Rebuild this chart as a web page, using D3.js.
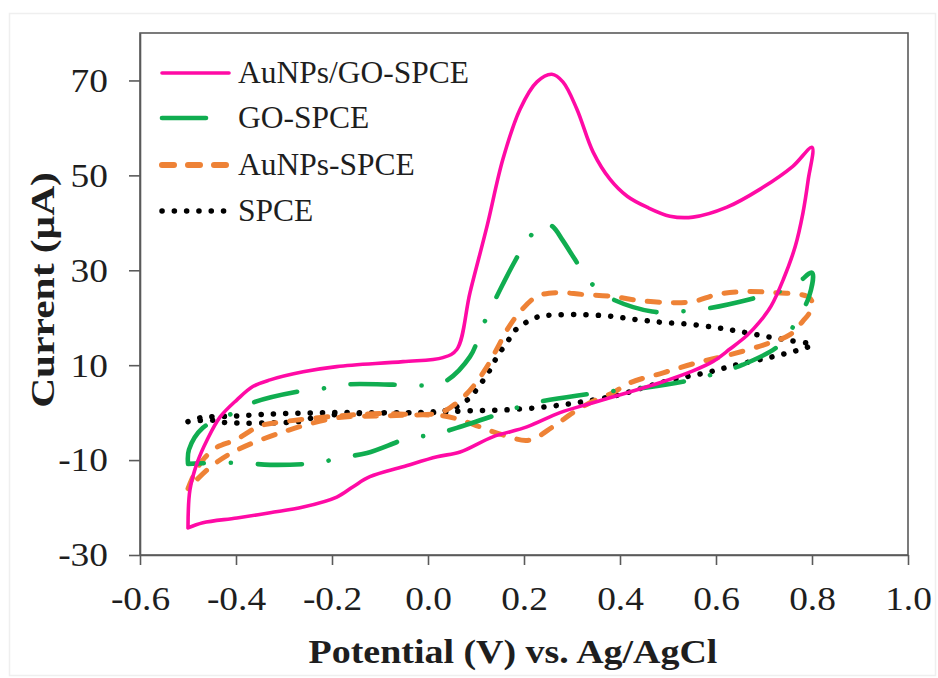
<!DOCTYPE html>
<html>
<head>
<meta charset="utf-8">
<script src="https://cdn.jsdelivr.net/npm/d3@7"></script>
<style>
  html, body { margin: 0; padding: 0; background: #fff; }
  svg { display: block; }
</style>
</head>
<body>
<svg id="chart" width="938" height="678"></svg>
<script>
// Cyclic voltammograms: each scan is a closed loop (forward sweep then reverse sweep)

// AuNPs/GO-SPCE
const auGoPotential = [-0.5, -0.496, -0.481, -0.46, -0.433, -0.398, -0.365, -0.329, -0.26, -0.19, -0.052, 0.031,
  0.06, 0.0875, 0.123, 0.156, 0.192, 0.227, 0.258, 0.281, 0.31, 0.344, 0.379, 0.415, 0.456, 0.504, 0.552, 0.623,
  0.692, 0.76, 0.8,
  0.792, 0.781, 0.765, 0.74, 0.715, 0.69, 0.665, 0.629, 0.594, 0.552, 0.483, 0.415, 0.344, 0.275, 0.206, 0.135,
  0.067, 0.019, -0.052, -0.121, -0.156, -0.19, -0.26, -0.329, -0.398, -0.469, -0.5];
const auGoCurrent = [-24.3, -16.3, -10.6, -5.7, -0.9, 2.7, 5.5, 6.9, 8.6, 9.7, 10.75, 11.6,
  13.3, 25.3, 39.3, 53.4, 64.0, 69.7, 71.3, 69.7, 64.0, 54.9, 49.2, 45.6, 43.3, 41.4, 41.2, 43.3,
  47.1, 51.9, 55.9,
  49.0, 42.0, 35.0, 28.0, 22.5, 19.0, 16.3, 13.4, 10.8, 8.8, 6.3, 4.2, 2.1, 0.0, -3.0, -5.1,
  -8.3, -9.3, -11.4, -13.5, -15.6, -17.8, -19.9, -21.1, -22.2, -23.2, -24.3];

// GO-SPCE
const goPotential = [-0.5, -0.498, -0.469, -0.4125, -0.365, -0.273, -0.221, -0.177, -0.073, -0.021, 0.031,
  0.0875, 0.1125, 0.133, 0.181, 0.206, 0.24, 0.26, 0.28, 0.306, 0.333, 0.373, 0.467, 0.517, 0.567, 0.667, 0.76, 0.8,
  0.794, 0.769, 0.733, 0.656, 0.604, 0.552, 0.456, 0.354, 0.254, 0.206, 0.156, 0.06, 0.01, -0.0375, -0.127,
  -0.183, -0.231, -0.329, -0.385, -0.448, -0.5];
const goCurrent = [-10.8, -7.8, -3.2, -0.4, 2.1, 4.4, 5.05, 5.9, 5.9, 5.7, 6.3,
  11.8, 17.9, 22.4, 31.9, 36.1, 40.0, 39.2, 36.4, 32.3, 28.1, 24.5, 21.3, 21.3, 21.7, 23.8, 26.6, 29.5,
  24.5, 19.6, 14.3, 10.1, 8.4, 6.95, 5.3, 4.2, 2.7, 1.7, 0.0, -3.2, -4.7, -5.3, -8.5,
  -9.5, -10.6, -11.0, -10.6, -10.6, -10.8];

// AuNPs-SPCE
const auPotential = [-0.5, -0.485, -0.465, -0.44, -0.4, -0.35, -0.3, -0.2, -0.1, 0.025, 0.067, 0.094, 0.123,
  0.146, 0.165, 0.192, 0.227, 0.269, 0.323, 0.385, 0.427, 0.498, 0.552, 0.602, 0.656, 0.719, 0.79, 0.8,
  0.796, 0.781, 0.755, 0.7, 0.629, 0.56, 0.49, 0.421, 0.385, 0.3375, 0.302, 0.26, 0.21, 0.156, 0.108, 0.067,
  0.025, -0.1, -0.19, -0.3, -0.4, -0.45, -0.5];
const auCurrent = [-16.0, -12.5, -9.5, -7.3, -5.7, -2.8, -1.9, -0.8, -0.2, 0.0, 2.7, 5.5, 9.7,
  13.9, 17.5, 21.3, 24.5, 25.3, 24.9, 24.5, 23.8, 23.2, 23.4, 24.9, 25.5, 25.3, 24.5, 23.4,
  21.3, 19.3, 16.5, 14.3, 12.2, 10.5, 8.4, 6.3, 4.2, 2.1, 0.0, -3.0, -5.8, -4.7, -3.0, -1.5,
  -0.6, -0.7, -1.1, -4.0, -8.0, -11.2, -16.0];

// SPCE
const spcePotential = [-0.5, -0.45, -0.42, -0.3, -0.27, -0.24, -0.22, -0.19, -0.1, 0.0, 0.05, 0.0875, 0.104,
  0.119, 0.133, 0.146, 0.165, 0.177, 0.198, 0.223, 0.248, 0.358, 0.435, 0.49, 0.546, 0.602, 0.65, 0.706, 0.754, 0.8,
  0.775, 0.719, 0.644, 0.5875, 0.51, 0.456, 0.4, 0.323, 0.248, 0.165, 0.083, 0.0, -0.2, -0.3, -0.35, -0.4,
  -0.475, -0.5];
const spceCurrent = [-1.9, -1.6, -2.1, -2.1, -1.9, -1.1, -0.9, -0.4, -0.1, 0.1, 0.8, 3.15, 5.3,
  7.4, 9.7, 12.2, 14.8, 16.9, 18.6, 20.0, 20.5, 20.5, 19.6, 19.0, 18.6, 17.9, 17.1, 16.0, 15.2, 14.3,
  13.3, 11.8, 10.1, 8.6, 6.95, 5.5, 3.8, 2.3, 1.25, 0.6, 0.4, 0.0, 0.0, -0.2, -0.4, -0.7,
  -1.1, -1.9];

const seriesNames = ["AuNPs/GO-SPCE", "GO-SPCE", "AuNPs-SPCE", "SPCE"];
const xTicks = [-0.6, -0.4, -0.2, 0.0, 0.2, 0.4, 0.6, 0.8, 1.0];
const yTicks = [-30, -10, 10, 30, 50, 70];
const xTitle = "Potential (V) vs. Ag/AgCl";
const yTitle = "Current (μA)";

const series = [
  { name: seriesNames[0], x: auGoPotential, y: auGoCurrent, color: "#ff0aa5", width: 3.6, dash: null, cap: "round" },
  { name: seriesNames[1], x: goPotential, y: goCurrent, color: "#10ad50", width: 4.6, dash: "44 27 0.1 27", cap: "round" },
  { name: seriesNames[2], x: auPotential, y: auCurrent, color: "#ee8236", width: 5, dash: "12 14", cap: "round" },
  { name: seriesNames[3], x: spcePotential, y: spceCurrent, color: "#000000", width: 5.5, dash: "0.1 12.2", cap: "round" }
];

const svg = d3.select("#chart");
const W = 938, H = 678;
const plot = { left: 140, right: 908, top: 33, bottom: 555 };

const x = d3.scaleLinear().domain([-0.6, 1.0]).range([plot.left, plot.right]);
const y = d3.scaleLinear().domain([-30, 80]).range([plot.bottom, plot.top]);

const serif = "'Liberation Serif', 'Times New Roman', 'DejaVu Serif', serif";
const axisGray = "#5a5a5a";
const textColor = "#1e1e1e";

// faint outer frame of the figure
svg.append("rect")
  .attr("x", 9.5).attr("y", 13.5).attr("width", W - 12).attr("height", H - 16)
  .attr("fill", "none").attr("stroke", "#efefef").attr("stroke-width", 1.5);

// plot area frame
svg.append("rect")
  .attr("x", plot.left).attr("y", plot.top)
  .attr("width", plot.right - plot.left).attr("height", plot.bottom - plot.top)
  .attr("fill", "#fff").attr("stroke", axisGray).attr("stroke-width", 1.6);

// axes
const xAxis = svg.append("g")
  .attr("transform", `translate(0,${plot.bottom})`)
  .call(d3.axisBottom(x).tickValues(xTicks).tickFormat(d => d.toFixed(1))
    .tickSize(10).tickSizeOuter(0).tickPadding(21));
const yAxis = svg.append("g")
  .attr("transform", `translate(${plot.left},0)`)
  .call(d3.axisLeft(y).tickValues(yTicks).tickFormat(d => String(d))
    .tickSize(11).tickSizeOuter(0).tickPadding(21));

[xAxis, yAxis].forEach(g => {
  g.select(".domain").attr("stroke", axisGray).attr("stroke-width", 1.6);
  g.selectAll(".tick line").attr("stroke", axisGray).attr("stroke-width", 1.6);
  g.selectAll(".tick text")
    .attr("fill", textColor)
    .style("font-family", serif)
    .style("font-size", "34px");
});
xAxis.selectAll(".tick text").attr("transform", "scale(1.1,1)");
yAxis.selectAll(".tick text")
  .attr("x", 0)
  .attr("transform", "translate(-32,0) scale(1.1,1)");

// curves
const line = d3.line()
  .x(d => x(d[0]))
  .y(d => y(d[1]))
  .curve(d3.curveCatmullRom.alpha(0.5));

const curves = svg.append("g");
series.slice().reverse().forEach(s => {
  const pts = s.x.map((v, i) => [v, s.y[i]]);
  curves.append("path")
    .attr("d", line(pts))
    .attr("fill", "none")
    .attr("stroke", s.color)
    .attr("stroke-width", s.width)
    .attr("stroke-linecap", s.cap)
    .attr("stroke-linejoin", "round")
    .attr("stroke-dasharray", s.dash);
});

// legend
const legendRows = [73, 118, 165, 211];
const legend = svg.append("g");
series.forEach((s, i) => {
  const ly = legendRows[i];
  legend.append("line")
    .attr("x1", 162).attr("x2", 229).attr("y1", ly).attr("y2", ly)
    .attr("stroke", s.color)
    .attr("stroke-width", s.width + (i === 2 ? 1 : 0))
    .attr("stroke-linecap", s.cap)
    .attr("stroke-dasharray", s.dash);
  legend.append("text")
    .attr("x", 238).attr("y", ly + 10)
    .attr("fill", textColor)
    .style("font-family", serif)
    .style("font-size", "31.5px")
    .text(s.name);
});

// axis titles
svg.append("g")
  .attr("transform", "translate(513,663) scale(1.15,1)")
  .append("text")
  .attr("text-anchor", "middle")
  .attr("fill", textColor)
  .style("font-family", serif)
  .style("font-weight", "bold")
  .style("font-size", "33px")
  .text(xTitle);

svg.append("g")
  .attr("transform", "translate(54,290) rotate(-90) scale(1.22,1)")
  .append("text")
  .attr("text-anchor", "middle")
  .attr("fill", textColor)
  .style("font-family", serif)
  .style("font-weight", "bold")
  .style("font-size", "34px")
  .text(yTitle);
</script>
</body>
</html>
